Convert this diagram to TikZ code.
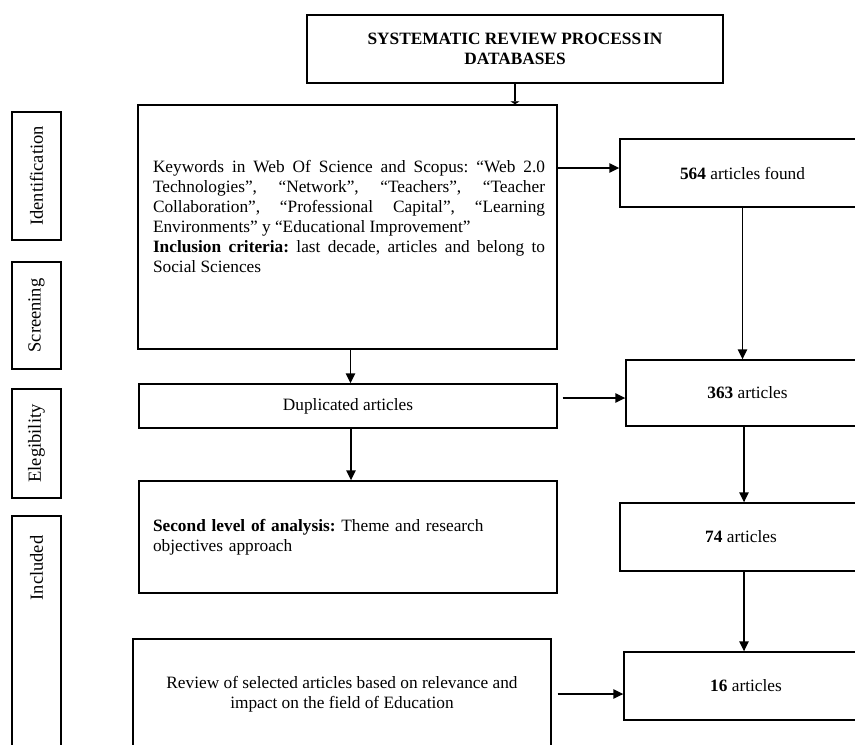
\documentclass[tikz,border=0pt]{standalone}
\usepackage{fontspec}
\setmainfont{Liberation Serif}
\usetikzlibrary{arrows.meta}
\begin{document}
\frenchspacing
\begin{tikzpicture}[x=1pt,y=-1pt,
  every node/.style={font=\fontsize{17.3}{20}\selectfont},
  box/.style={draw, line width=1.4pt, rectangle, inner sep=0pt},
  arr/.style={line width=1.4pt, -{Triangle[length=10pt,width=9.5pt]}},
  lbl/.style={rotate=90, inner sep=0pt, font=\fontsize{18.5}{20}\selectfont}]
\useasboundingbox (0,0) rectangle (855,745);
\clip (0,0) rectangle (855,745);

% title
\node[box, minimum width=416pt, minimum height=68pt, align=center] (title) at (515,49)
  {\textbf{SYSTEMATIC REVIEW PROCESS\hspace{2pt}IN}\\\textbf{DATABASES}};

% stage labels
\node[box, minimum width=49pt, minimum height=128pt] (idl) at (36.5,176) {};
\node[lbl] (idt) at (idl.center) {Identification};
\node[box, minimum width=49pt, minimum height=107pt] (scl) at (36.5,315.5) {};
\node[lbl] (sct) at (scl.center) {Screening};
\node[box, minimum width=49pt, minimum height=109pt] (ell) at (36.5,443.5) {};
\node[lbl] (elt) at (ell.center) {Elegibility};
\node[box, minimum width=49pt, minimum height=244pt] (inl) at (36.5,638) {};
\node[lbl] (int) at (36.5,568) {Included};

% left column
\node[box, minimum width=419pt, minimum height=244pt] (main) at (347.5,227) {};
\node[text width=392pt, align=justify, inner sep=0pt] (maintext) at (349,216)
  {\hyphenpenalty=10000\parindent=0pt Keywords in Web Of Science and Scopus: “Web 2.0\linebreak
   Technologies”, “Network”, “Teachers”, “Teacher\linebreak
   Collaboration”, “Professional Capital”, “Learning\linebreak
   Environments” y “Educational Improvement”\par
   \textbf{Inclusion criteria:} last decade, articles and belong to\linebreak
   Social Sciences\par};
\node[box, minimum width=418pt, minimum height=44pt] (dup) at (348,406) {Duplicated articles};
\node[box, text width=390pt, inner xsep=14pt, minimum height=112pt, align=left] (elig) at (348,537)
  {\textbf{Second level of analysis:} Theme and research\\objectives approach};
\node[box, minimum width=418pt, minimum height=110pt, align=center] (review) at (342,694)
  {Review of selected articles based on relevance and\\impact on the field of Education};

% right column
\node[box, minimum width=245pt, minimum height=68pt] (found) at (742.5,173) {\textbf{564} articles found};
\node[box, minimum width=243pt, minimum height=66pt] (s363) at (747.5,393) {\textbf{363} articles};
\node[box, minimum width=242pt, minimum height=68pt] (s74) at (741,537) {\textbf{74} articles};
\node[box, minimum width=244pt, minimum height=68pt] (s16) at (746,686) {\textbf{16} articles};

% connectors
\draw[line width=1.4pt, -{Triangle[length=3pt,width=9pt]}] (title.south) -- (title.south |- main.north);
\coordinate (a1) at ([yshift=5pt]found.west);
\draw[arr] (main.east |- a1) -- (a1);
\draw[arr] (found.south) -- (found.south |- s363.north);
\coordinate (a2) at ([xshift=3pt]main.south);
\draw[arr] (a2) -- (a2 |- dup.north);
\coordinate (a3) at ([xshift=3pt]dup.south);
\draw[arr] (a3) -- (a3 |- elig.north);
\coordinate (a4) at ([yshift=-5pt]s363.west);
\draw[arr] ([xshift=5pt]dup.east |- a4) -- (a4);
\coordinate (a5) at ([xshift=-3.5pt]s363.south);
\draw[arr] (a5) -- (a5 |- s74.north);
\coordinate (a6) at ([xshift=3pt]s74.south);
\draw[arr] (a6) -- (a6 |- s16.north);
\coordinate (a7) at ([yshift=-8pt]s16.west);
\draw[arr] ([xshift=6pt]review.east |- a7) -- (a7);
\end{tikzpicture}
\end{document}
